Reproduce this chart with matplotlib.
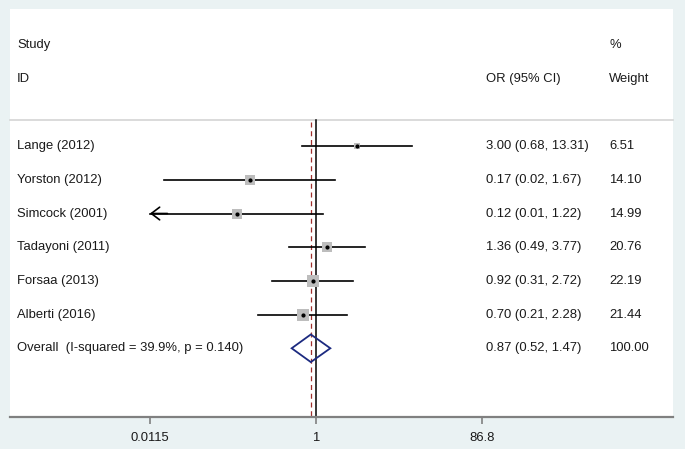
import numpy as np
import matplotlib.pyplot as plt
import matplotlib.transforms as mtransforms

# study data (odds ratios, 95% CI, weights)
studies = ["Lange (2012)", "Yorston (2012)", "Simcock (2001)", "Tadayoni (2011)",
           "Forsaa (2013)", "Alberti (2016)"]
odds = [3.00, 0.17, 0.12, 1.36, 0.92, 0.70]
ci_low = [0.68, 0.017, 0.01, 0.49, 0.31, 0.21]
ci_high = [13.31, 1.67, 1.22, 3.77, 2.72, 2.28]
weights = [6.51, 14.10, 14.99, 20.76, 22.19, 21.44]

overall_label = "Overall  (I-squared = 39.9%, p = 0.140)"
overall = [0.87, 0.52, 1.47]
overall_weight = 100.00

tick_vals = [0.0115, 1, 86.8]
tick_labels = ["0.0115", "1", "86.8"]

plt.rcParams['font.family'] = ['Liberation Sans', 'DejaVu Sans']
FS = 9.4
BG = "#eaf2f3"
NAVY = "#1c2a80"
TXT = "#1a1a1a"

fig = plt.figure(figsize=(6.85, 4.49), dpi=100, facecolor=BG)
ax = fig.add_axes([10 / 685, 32 / 449, 663 / 685, 408 / 449])
ax.set_facecolor("white")
ax.set_xscale("log")
px_per_dec = 166 / np.log10(86.8)
ax.set_xlim(10 ** (-(316 - 10) / px_per_dec), 10 ** ((673 - 316) / px_per_dec))
ax.set_ylim(8.04, -4.07)

for s in ["top", "left", "right"]:
    ax.spines[s].set_visible(False)
ax.spines["bottom"].set_color("#808080")
ax.spines["bottom"].set_linewidth(1.6)
ax.set_yticks([])
ax.set_xticks(tick_vals)
ax.set_xticklabels(tick_labels)
ax.minorticks_off()
ax.tick_params(axis="x", length=5, width=1.2, color="#808080", labelsize=FS,
               labelcolor=TXT, pad=6)

tr = mtransforms.blended_transform_factory(ax.transAxes, ax.transData)
x_left, x_or, x_wt = 7 / 663, 476 / 663, 599 / 663


def label(x, y, s):
    ax.text(x, y, s, transform=tr, fontsize=FS, va="center", color=TXT)


# headers
label(x_left, -3, "Study")
label(x_left, -2, "ID")
label(x_or, -2, "OR (95% CI)")
label(x_wt, -3, "%")
label(x_wt, -2, "Weight")
ax.plot([0, 1], [-0.77, -0.77], transform=tr, color="#d4d4d4", lw=1.2, clip_on=False)

# reference lines
ax.plot([1, 1], [-0.77, 8.04], color="black", lw=1.1)
ax.plot([overall[0]] * 2, [-0.72, 8.04], color="#a0302e", lw=0.9, ls=(0, (4, 3)))

xmin = tick_vals[0]
for i, (name, o, lo, hi, w) in enumerate(zip(studies, odds, ci_low, ci_high, weights)):
    label(x_left, i, name)
    label(x_or, i, f"{o:.2f} ({lo:.2f}, {hi:.2f})")
    label(x_wt, i, f"{w:.2f}")
    left = max(lo, xmin)
    ax.plot([left, hi], [i, i], color="black", lw=1.2, zorder=2)
    if lo < xmin:
        ax.annotate("", xy=(left, i), xytext=(left * 1.6, i),
                    arrowprops=dict(arrowstyle="->,head_length=0.5,head_width=0.38",
                                    color="black", lw=1.2, mutation_scale=12,
                                    shrinkA=0, shrinkB=0), zorder=3)
    ax.scatter([o], [i], marker="s", s=w * 3.0, color="#bdbdbd", zorder=3, linewidths=0)
    ax.scatter([o], [i], marker="o", s=4, color="black", zorder=4)

# overall
row = len(studies)
label(x_left, row, overall_label)
label(x_or, row, f"{overall[0]:.2f} ({overall[1]:.2f}, {overall[2]:.2f})")
label(x_wt, row, f"{overall_weight:.2f}")
ax.fill([overall[1], overall[0], overall[2], overall[0], overall[1]],
        [row, row - 0.41, row, row + 0.41, row], facecolor="none",
        edgecolor=NAVY, lw=1.3, zorder=4)

fig.savefig("out.png", dpi=100, facecolor=BG)
